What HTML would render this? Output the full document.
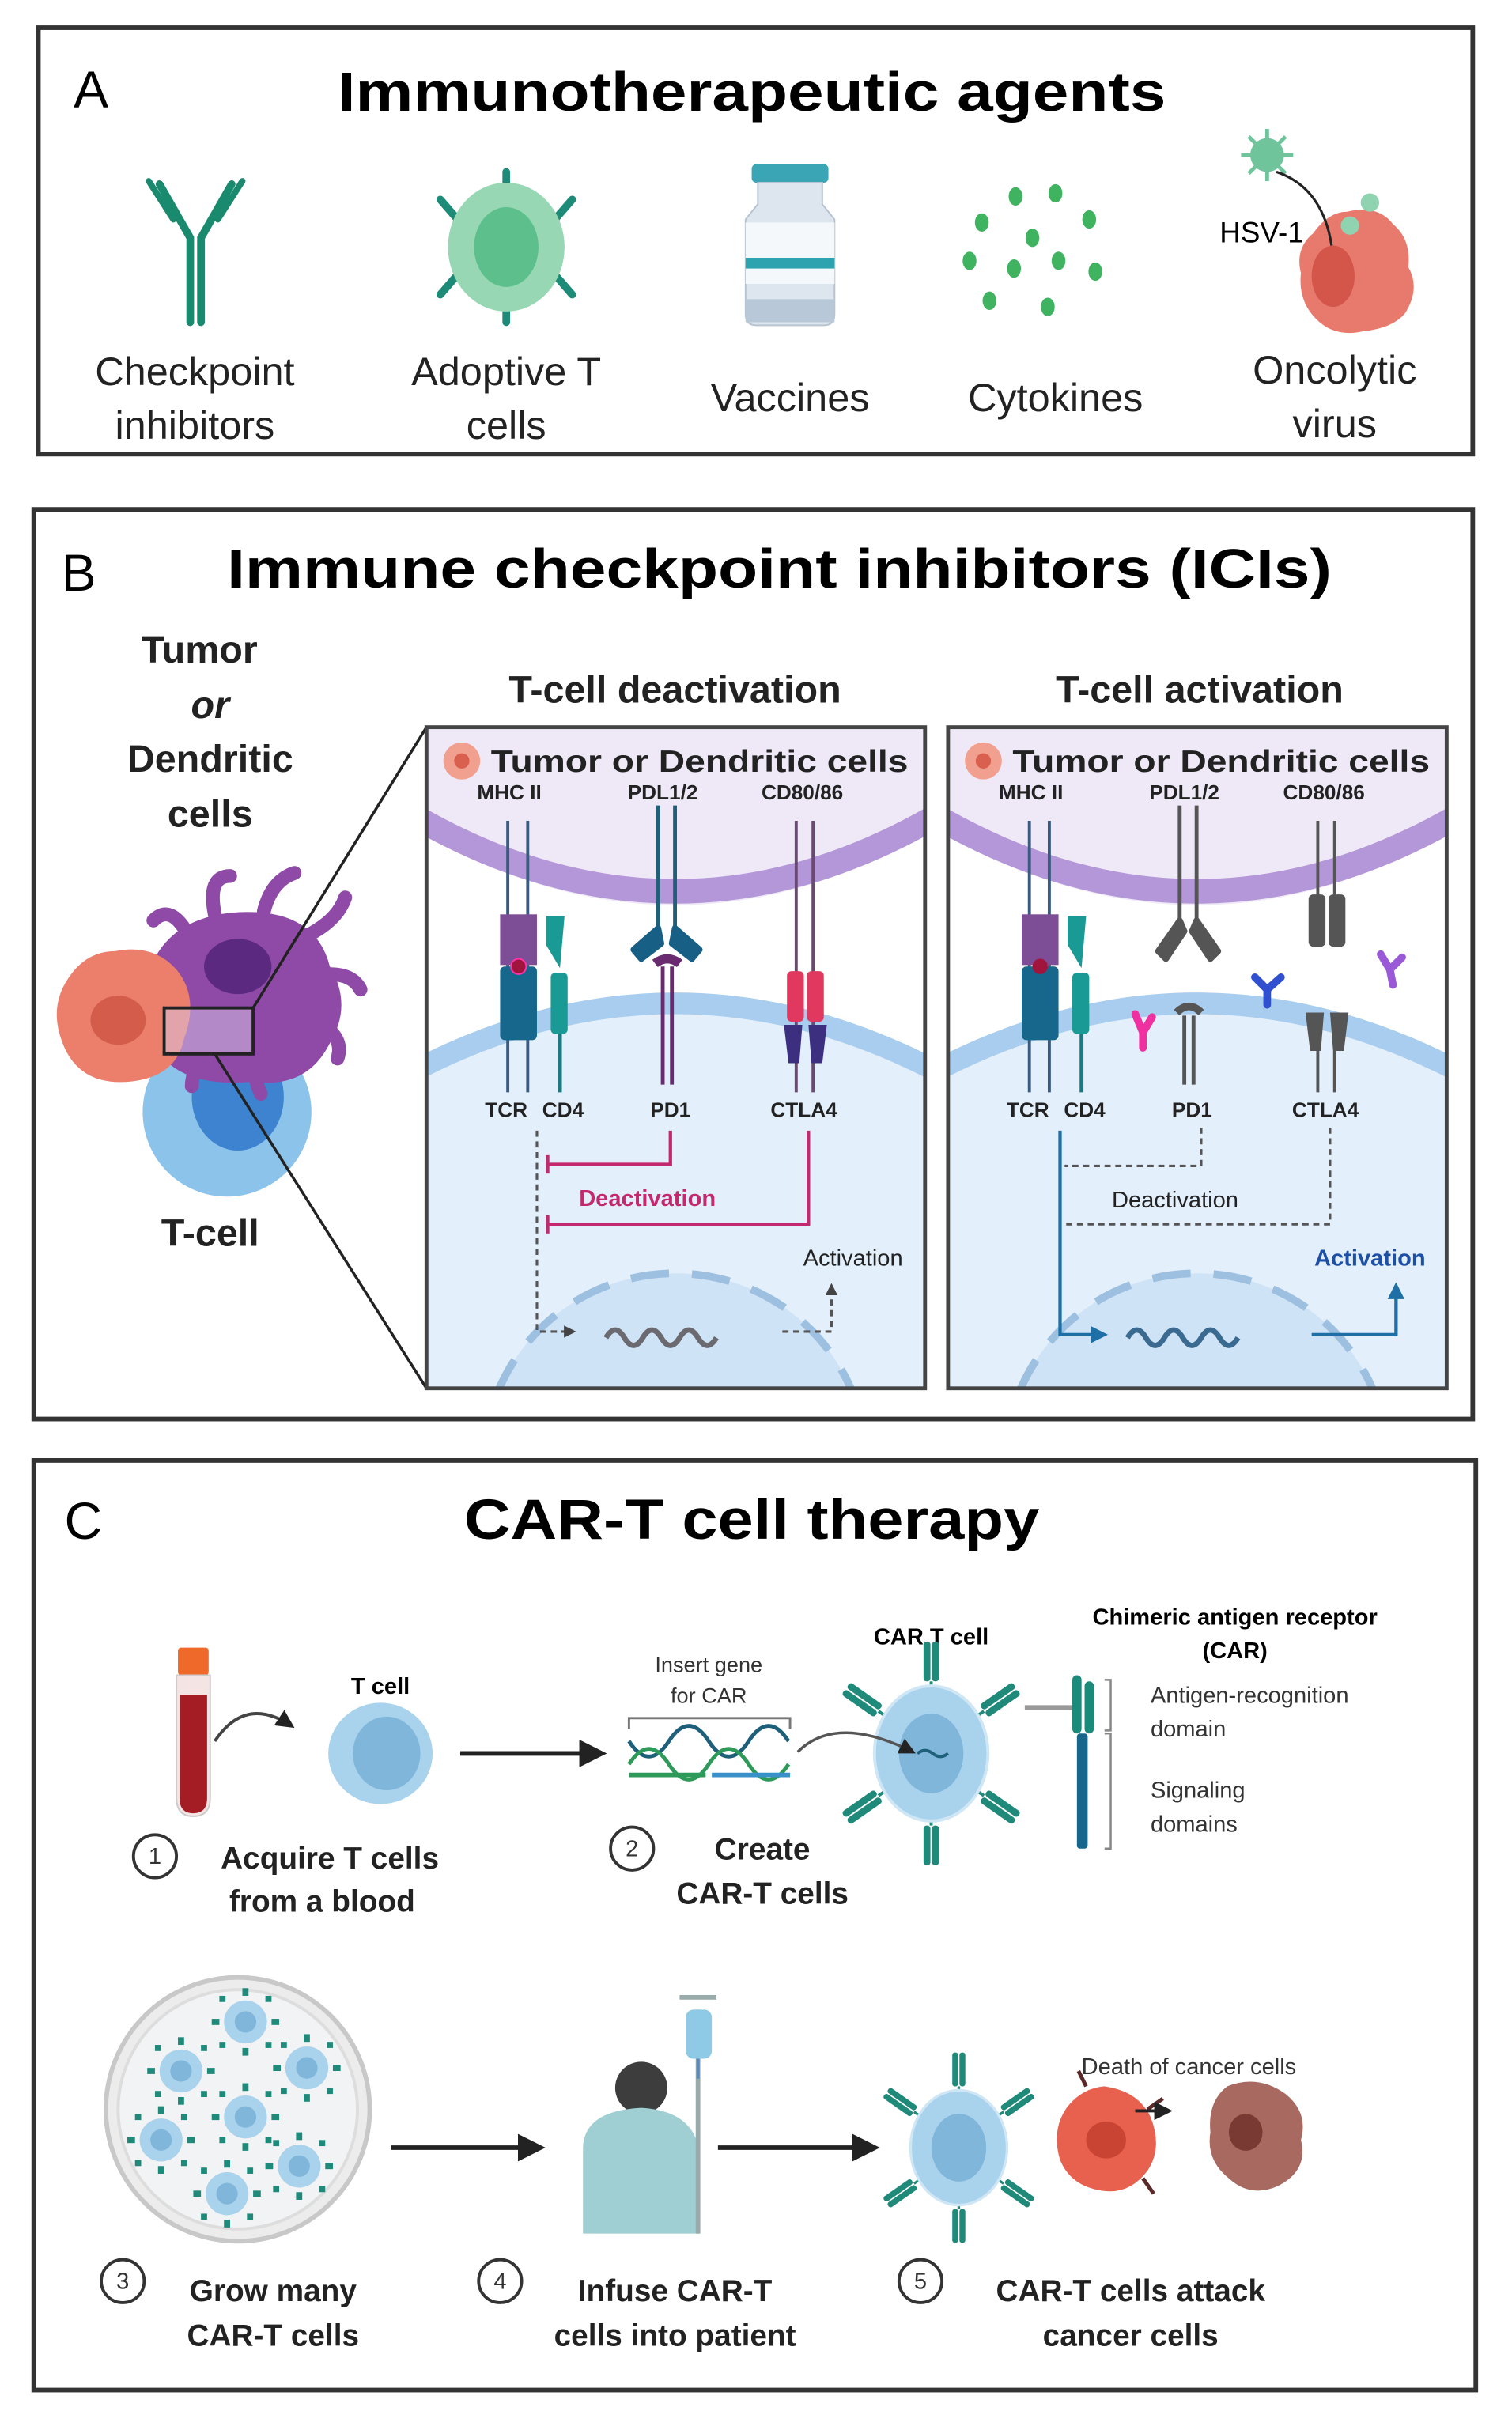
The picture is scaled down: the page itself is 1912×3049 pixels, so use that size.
<!DOCTYPE html>
<html><head><meta charset="utf-8"><style>
html,body{margin:0;padding:0;background:#fff}
svg{display:block}
text{font-family:"Liberation Sans",Arial,sans-serif}
</style></head><body>
<svg width="1912" height="3049" viewBox="0 0 985.6 1571.6" xmlns="http://www.w3.org/2000/svg">
<defs>
<g id="rec"><rect x="-5" y="-13" width="4.5" height="26" rx="2" fill="#1f8a7a"/><rect x="0.5" y="-13" width="4.5" height="26" rx="2" fill="#1f8a7a"/><line x1="0" y1="13" x2="0" y2="20" stroke="#1f8a7a" stroke-width="2"/></g>
<g id="cart">
<use href="#rec" transform="translate(0,-60)"/>
<use href="#rec" transform="translate(0,60) rotate(180)"/>
<use href="#rec" transform="translate(-45,-35) rotate(-55)"/>
<use href="#rec" transform="translate(45,-35) rotate(55)"/>
<use href="#rec" transform="translate(-45,35) rotate(-125)"/>
<use href="#rec" transform="translate(45,35) rotate(125)"/>
<ellipse cx="0" cy="0" rx="37" ry="44" fill="#a9d2ec" stroke="#cfe6f5" stroke-width="2"/>
<ellipse cx="0" cy="0" rx="21" ry="26" fill="#7fb6d9"/>
</g>
<g id="mini"><circle r="14" fill="#a9d2ec"/><circle r="7" fill="#7fb6d9"/>
<rect x="-2" y="-22" width="4" height="5" fill="#1f8a7a"/><rect x="-2" y="17" width="4" height="5" fill="#1f8a7a"/><rect x="-22" y="-2" width="5" height="4" fill="#1f8a7a"/><rect x="17" y="-2" width="5" height="4" fill="#1f8a7a"/>
<rect x="-17" y="-17" width="4" height="4" fill="#1f8a7a"/><rect x="13" y="13" width="4" height="4" fill="#1f8a7a"/><rect x="13" y="-17" width="4" height="4" fill="#1f8a7a"/><rect x="-17" y="13" width="4" height="4" fill="#1f8a7a"/></g>
<clipPath id="c1"><rect x="278" y="474" width="325" height="431"/></clipPath>
<clipPath id="c2"><rect x="618" y="474" width="325" height="431"/></clipPath>
<marker id="ah" viewBox="0 0 10 10" refX="8" refY="5" markerWidth="6" markerHeight="6" orient="auto"><path d="M0,0L10,5L0,10z" fill="#222"/></marker>
<marker id="ahb" viewBox="0 0 10 10" refX="8" refY="5" markerWidth="5" markerHeight="5" orient="auto"><path d="M0,0L10,5L0,10z" fill="#1d6fa5"/></marker>
<marker id="ahg" viewBox="0 0 10 10" refX="8" refY="5" markerWidth="5" markerHeight="5" orient="auto"><path d="M0,0L10,5L0,10z" fill="#444"/></marker>
</defs>

<!-- PANEL A -->
<rect x="25" y="18" width="935" height="278" fill="#fff" stroke="#333" stroke-width="3"/>
<text x="48" y="70" font-size="34">A</text>
<text x="490" y="72" font-size="36" font-weight="bold" text-anchor="middle" textLength="540" lengthAdjust="spacingAndGlyphs">Immunotherapeutic agents</text>
<!-- antibody -->
<g stroke="#1a8a6e" stroke-width="5" fill="none" stroke-linecap="round">
<path d="M124,210V155L104,120"/><path d="M131,210V155L151,120"/>
<path d="M113,143L97,118" stroke-width="4"/><path d="M142,143L158,118" stroke-width="4"/>
</g>
<!-- adoptive T -->
<g stroke="#1e8a78" stroke-width="5" stroke-linecap="round">
<line x1="330" y1="112" x2="330" y2="130"/><line x1="330" y1="192" x2="330" y2="210"/>
<line x1="287" y1="130" x2="300" y2="145"/><line x1="373" y1="130" x2="360" y2="145"/>
<line x1="287" y1="192" x2="300" y2="177"/><line x1="373" y1="192" x2="360" y2="177"/>
</g>
<ellipse cx="330" cy="161" rx="38" ry="42" fill="#97d7b4"/>
<ellipse cx="330" cy="161" rx="21" ry="26" fill="#5cbf8c"/>
<!-- vial -->
<rect x="490" y="107" width="50" height="12" rx="3" fill="#3aa5b5"/>
<path d="M494,119h42v14l8,10v62q0,7-7,7h-44q-7,0-7-7v-62l8-10z" fill="#dde5ee" stroke="#b6c3d0"/>
<rect x="486" y="145" width="58" height="40" fill="#f5f8fb"/>
<rect x="486" y="168" width="58" height="7" fill="#2ea3b0"/>
<rect x="486" y="195" width="58" height="15" fill="#b9c8d8"/>
<!-- cytokines -->
<g fill="#3fb360">
<ellipse cx="662" cy="128" rx="4.5" ry="6"/><ellipse cx="688" cy="126" rx="4.5" ry="6"/><ellipse cx="640" cy="145" rx="4.5" ry="6"/><ellipse cx="710" cy="143" rx="4.5" ry="6"/><ellipse cx="673" cy="155" rx="4.5" ry="6"/><ellipse cx="632" cy="170" rx="4.5" ry="6"/><ellipse cx="661" cy="175" rx="4.5" ry="6"/><ellipse cx="690" cy="170" rx="4.5" ry="6"/><ellipse cx="714" cy="177" rx="4.5" ry="6"/><ellipse cx="645" cy="196" rx="4.5" ry="6"/><ellipse cx="683" cy="200" rx="4.5" ry="6"/>
</g>
<!-- oncolytic -->
<path d="M878,138 q20,-5 30,8 q12,10 10,28 q8,14 -2,30 q-8,10 -28,12 q-18,4 -30,-8 q-12,-12 -10,-30 q-4,-16 8,-26 q10,-14 22,-14z" fill="#e87a6d"/>
<ellipse cx="869" cy="180" rx="14" ry="20" fill="#d4554a"/>
<circle cx="826" cy="101" r="11" fill="#6fc49c"/>
<g stroke="#6fc49c" stroke-width="2.5"><line x1="826" y1="84" x2="826" y2="118"/><line x1="809" y1="101" x2="843" y2="101"/><line x1="814" y1="89" x2="838" y2="113"/><line x1="838" y1="89" x2="814" y2="113"/></g>
<circle cx="893" cy="132" r="6" fill="#8fd3b0"/><circle cx="880" cy="147" r="6" fill="#8fd3b0"/>
<path d="M832,112 q30,10 36,48" stroke="#222" stroke-width="1.6" fill="none"/>
<text x="795" y="158" font-size="19">HSV-1</text>
<g font-size="26" text-anchor="middle" fill="#222">
<text x="127" y="251">Checkpoint</text><text x="127" y="286">inhibitors</text>
<text x="330" y="251">Adoptive T</text><text x="330" y="286">cells</text>
<text x="515" y="268">Vaccines</text><text x="688" y="268">Cytokines</text>
<text x="870" y="250">Oncolytic</text><text x="870" y="285">virus</text>
</g>

<!-- PANEL B -->
<rect x="22" y="332" width="938" height="593" fill="#fff" stroke="#333" stroke-width="3"/>
<text x="40" y="385" font-size="34">B</text>
<text x="508" y="383" font-size="36" font-weight="bold" text-anchor="middle" textLength="720" lengthAdjust="spacingAndGlyphs">Immune checkpoint inhibitors (ICIs)</text>
<g font-size="25" font-weight="bold" text-anchor="middle" fill="#222">
<text x="130" y="432">Tumor</text><text x="137" y="468" font-style="italic">or</text><text x="137" y="503">Dendritic</text><text x="137" y="539">cells</text>
<text x="137" y="812">T-cell</text>
<text x="440" y="458">T-cell deactivation</text><text x="782" y="458">T-cell activation</text>
</g>
<!-- left cells -->
<circle cx="148" cy="725" r="55" fill="#8cc3ea"/>
<ellipse cx="155" cy="715" rx="30" ry="35" fill="#3d83cf"/>
<g fill="#8e4aa6">
<path d="M95,640 q10,-40 55,-45 q55,-5 65,35 q15,25 0,50 q-15,30 -50,25 q-50,5 -65,-25 q-15,-20 -5,-40z"/>
<g stroke="#8e4aa6" stroke-width="9" stroke-linecap="round" fill="none">
<path d="M120,605 q-10,-15 -20,-5"/><path d="M140,596 q-5,-25 10,-25"/><path d="M172,594 q5,-20 20,-25"/><path d="M200,610 q20,-10 25,-25"/><path d="M215,635 q15,0 20,10"/><path d="M205,665 q20,10 15,25"/><path d="M165,683 q0,20 5,30"/><path d="M135,683 q-10,15 -10,25"/>
</g></g>
<ellipse cx="155" cy="630" rx="22" ry="18" fill="#5b2a80"/>
<path d="M75,620 q25,-5 40,12 q15,18 5,45 q-5,25 -35,28 q-30,3 -42,-20 q-12,-25 0,-45 q12,-20 32,-20z" fill="#ec7e6c"/>
<ellipse cx="77" cy="665" rx="18" ry="16" fill="#d45c4b"/>
<rect x="107" y="657" width="58" height="30" fill="#d8c8e8" fill-opacity="0.5" stroke="#222" stroke-width="2"/>
<line x1="165" y1="657" x2="278" y2="474" stroke="#222" stroke-width="1.8"/>
<line x1="140" y1="687" x2="278" y2="905" stroke="#222" stroke-width="1.8"/>

<!-- subpanel 1 and 2 backgrounds -->
<g id="sp1">
<g clip-path="url(#c1)">
<rect x="278" y="474" width="325" height="431" fill="#fff"/>
<path d="M270,474H610V540Q440,640 270,540z" fill="#efe8f6"/>
<path d="M270,532Q440,630 610,532" stroke="#b497d8" stroke-width="16" fill="none"/>
<path d="M270,700Q440,612 610,700V910H270z" fill="#e3effb"/>
<path d="M270,698Q440,610 610,698" stroke="#a9cdee" stroke-width="14" fill="none"/>
<circle cx="440" cy="955" r="125" fill="#cfe3f6"/>
<circle cx="440" cy="955" r="125" fill="none" stroke="#9dbfe0" stroke-width="5" stroke-dasharray="25,15"/>
</g>
<rect x="278" y="474" width="325" height="431" fill="none" stroke="#444" stroke-width="2.5"/>
<circle cx="301" cy="496" r="12" fill="#f1a08f"/><circle cx="301" cy="496" r="5" fill="#d9604f"/>
<text x="456" y="503" font-size="20" font-weight="bold" text-anchor="middle" fill="#222" textLength="272" lengthAdjust="spacingAndGlyphs">Tumor or Dendritic cells</text>
<g font-size="13.5" font-weight="bold" text-anchor="middle" fill="#222">
<text x="332" y="521">MHC II</text><text x="432" y="521">PDL1/2</text><text x="523" y="521">CD80/86</text>
<text x="330" y="728">TCR</text><text x="367" y="728">CD4</text><text x="437" y="728">PD1</text><text x="524" y="728">CTLA4</text>
</g>
</g>
<use href="#sp1" transform="translate(340,0)"/>

<!-- receptors panel 1 -->
<g>
<line x1="331" y1="535" x2="331" y2="712" stroke="#3a5a80" stroke-width="2"/><line x1="344" y1="535" x2="344" y2="712" stroke="#3a5a80" stroke-width="2"/>
<rect x="326" y="596" width="24" height="33" fill="#7d4d96"/>
<rect x="326" y="630" width="24" height="48" rx="3" fill="#17678c"/>
<circle cx="338" cy="630" r="5" fill="#a0153e" stroke="#f3a" stroke-width="1"/>
<path d="M356,597h12l-3,34l-9,-15z" fill="#1a9a95"/><rect x="359" y="634" width="11" height="40" rx="3" fill="#1a9a95"/><line x1="365" y1="674" x2="365" y2="712" stroke="#1a7a80" stroke-width="2.5"/>
<line x1="429" y1="525" x2="429" y2="605" stroke="#1e5f7a" stroke-width="2.5"/><line x1="440" y1="525" x2="440" y2="605" stroke="#1e5f7a" stroke-width="2.5"/>
<path d="M429,605l-16,14l5,6l13,-10z M440,605l16,14l-5,6l-13,-10z" fill="#175f85" stroke="#175f85" stroke-width="4" stroke-linejoin="round"/>
<path d="M427,628q8,-6 16,0" stroke="#6a2a70" stroke-width="6" fill="none"/>
<line x1="432" y1="630" x2="432" y2="707" stroke="#6a2a70" stroke-width="2.5"/><line x1="438" y1="630" x2="438" y2="707" stroke="#6a2a70" stroke-width="2.5"/>
<line x1="519" y1="535" x2="519" y2="712" stroke="#6a4a70" stroke-width="2"/><line x1="530" y1="535" x2="530" y2="712" stroke="#6a4a70" stroke-width="2"/>
<rect x="513" y="633" width="11" height="33" rx="3" fill="#e0385e"/><rect x="526" y="633" width="11" height="33" rx="3" fill="#e0385e"/>
<path d="M511,668h12l-2,25h-7z M527,668h12l-3,25h-7z" fill="#3d2f80"/>
</g>
<!-- deactivation arrows -->
<g stroke="#c4286e" stroke-width="2.2" fill="none">
<path d="M437,737V759H357"/><line x1="357" y1="753" x2="357" y2="765"/>
<path d="M527,737V798H357"/><line x1="357" y1="792" x2="357" y2="804"/>
</g>
<text x="422" y="786" font-size="15" font-weight="bold" fill="#c4286e" text-anchor="middle">Deactivation</text>
<path d="M350,737V868H374" stroke="#555" stroke-width="1.6" stroke-dasharray="4,3" fill="none" marker-end="url(#ahg)"/>
<path d="M510,868H542V838" stroke="#555" stroke-width="1.6" stroke-dasharray="4,3" fill="none" marker-end="url(#ahg)"/>
<text x="556" y="825" font-size="15" fill="#222" text-anchor="middle">Activation</text>
<path d="M395,872q6,-10 12,0t12,0t12,0t12,0t12,0t12,0" stroke="#6a6a70" stroke-width="3.5" fill="none"/>

<!-- receptors panel 2 -->
<g>
<line x1="671" y1="535" x2="671" y2="712" stroke="#3a5a80" stroke-width="2"/><line x1="684" y1="535" x2="684" y2="712" stroke="#3a5a80" stroke-width="2"/>
<rect x="666" y="596" width="24" height="33" fill="#7d4d96"/>
<rect x="666" y="630" width="24" height="48" rx="3" fill="#17678c"/>
<circle cx="678" cy="630" r="5" fill="#a0153e"/>
<path d="M696,597h12l-3,34l-9,-15z" fill="#1a9a95"/><rect x="699" y="634" width="11" height="40" rx="3" fill="#1a9a95"/><line x1="705" y1="674" x2="705" y2="712" stroke="#1a7a80" stroke-width="2.5"/>
<line x1="769" y1="525" x2="769" y2="600" stroke="#555" stroke-width="2.5"/><line x1="780" y1="525" x2="780" y2="600" stroke="#555" stroke-width="2.5"/>
<path d="M769,600l-14,20l5,5l12,-18z M780,600l14,20l-5,5l-12,-18z" fill="#555" stroke="#555" stroke-width="4" stroke-linejoin="round"/>
<path d="M767,660q8,-8 16,0" stroke="#555" stroke-width="5" fill="none"/>
<line x1="772" y1="662" x2="772" y2="707" stroke="#555" stroke-width="2.5"/><line x1="778" y1="662" x2="778" y2="707" stroke="#555" stroke-width="2.5"/>
<line x1="859" y1="535" x2="859" y2="600" stroke="#555" stroke-width="2"/><line x1="870" y1="535" x2="870" y2="600" stroke="#555" stroke-width="2"/>
<rect x="853" y="583" width="11" height="34" rx="3" fill="#555"/><rect x="866" y="583" width="11" height="34" rx="3" fill="#555"/>
<path d="M851,660h12l-2,25h-7z M867,660h12l-3,25h-7z" fill="#555"/>
<line x1="859" y1="685" x2="859" y2="712" stroke="#555" stroke-width="2"/><line x1="870" y1="685" x2="870" y2="712" stroke="#555" stroke-width="2"/>
<path d="M745,673l-5,-12M745,673l6,-10M745,673v10" stroke="#f02fa0" stroke-width="5" fill="none" stroke-linecap="round"/>
<path d="M826,645l-8,-8M826,645l9,-8M826,645v10" stroke="#3050d0" stroke-width="5" fill="none" stroke-linecap="round"/>
<path d="M906,632l-6,-10M906,632l8,-8M906,632l2,10" stroke="#9a5ad8" stroke-width="5" fill="none" stroke-linecap="round"/>
</g>
<g stroke="#555" stroke-width="1.6" stroke-dasharray="4,3" fill="none">
<path d="M783,735V760H694"/><path d="M867,735V798H694"/>
</g>
<text x="766" y="787" font-size="15" fill="#222" text-anchor="middle">Deactivation</text>
<path d="M691,737V870H720" stroke="#1d6fa5" stroke-width="2.2" fill="none" marker-end="url(#ahb)"/>
<path d="M855,870H910V838" stroke="#1d6fa5" stroke-width="2.2" fill="none" marker-end="url(#ahb)"/>
<text x="893" y="825" font-size="15" font-weight="bold" fill="#1d4fa5" text-anchor="middle">Activation</text>
<path d="M735,872q6,-10 12,0t12,0t12,0t12,0t12,0t12,0" stroke="#3a6a90" stroke-width="3.5" fill="none"/>

<!-- PANEL C -->
<rect x="22" y="952" width="940" height="606" fill="#fff" stroke="#333" stroke-width="3"/>
<text x="42" y="1003" font-size="34">C</text>
<text x="490" y="1003" font-size="37" font-weight="bold" text-anchor="middle" textLength="375" lengthAdjust="spacingAndGlyphs">CAR-T cell therapy</text>
<!-- tube -->
<rect x="116" y="1074" width="20" height="18" rx="2" fill="#ef6a2a"/>
<path d="M115,1092h22v80q0,12-11,12q-11,0-11,-12z" fill="#f5e4e4" stroke="#ccc"/>
<path d="M117,1105h18v67q0,10-9,10q-9,0-9,-10z" fill="#a51d24"/>
<path d="M140,1135q20,-30 50,-10" stroke="#444" stroke-width="2" fill="none" marker-end="url(#ah)"/>
<text x="248" y="1104" font-size="15" font-weight="bold" text-anchor="middle">T cell</text>
<ellipse cx="248" cy="1143" rx="34" ry="33" fill="#a9d2ec"/><ellipse cx="252" cy="1143" rx="22" ry="24" fill="#7fb6d9"/>
<line x1="300" y1="1143" x2="392" y2="1143" stroke="#222" stroke-width="3" marker-end="url(#ah)"/>
<text x="462" y="1090" font-size="14" text-anchor="middle" fill="#333">Insert gene</text>
<text x="462" y="1110" font-size="14" text-anchor="middle" fill="#333">for CAR</text>
<path d="M410,1127v-7h105v7" stroke="#777" stroke-width="1.5" fill="none"/>
<path d="M410,1135q13,20 26,0t26,0t26,0t26,0" stroke="#1e5f7a" stroke-width="2.5" fill="none"/>
<path d="M410,1150q13,-20 26,0t26,0t26,0t26,0" stroke="#2e9a5a" stroke-width="2.5" fill="none"/>
<line x1="410" y1="1157" x2="460" y2="1157" stroke="#2e9a5a" stroke-width="3"/><line x1="464" y1="1157" x2="515" y2="1157" stroke="#3a90c8" stroke-width="3"/>
<text x="607" y="1072" font-size="15" font-weight="bold" text-anchor="middle">CAR T cell</text>
<use href="#cart" transform="translate(607,1143)"/>
<path d="M520,1142q25,-25 75,0" stroke="#555" stroke-width="1.8" fill="none" marker-end="url(#ah)"/>
<path d="M598,1143q5,-4 10,0t10,0" stroke="#1e5f7a" stroke-width="2" fill="none"/>
<line x1="668" y1="1113" x2="700" y2="1113" stroke="#999" stroke-width="3"/>
<text x="805" y="1059" font-size="15" font-weight="bold" text-anchor="middle">Chimeric antigen receptor</text>
<text x="805" y="1081" font-size="15" font-weight="bold" text-anchor="middle">(CAR)</text>
<rect x="699" y="1092" width="6" height="38" rx="3" fill="#1a8a7a"/><rect x="707" y="1096" width="6" height="34" rx="3" fill="#1a8a7a"/>
<rect x="702" y="1130" width="7" height="75" rx="2" fill="#17678c"/>
<path d="M720,1095h4v33h-4 M720,1130h4v75h-4" stroke="#888" stroke-width="1.3" fill="none"/>
<g font-size="15" fill="#333"><text x="750" y="1110">Antigen-recognition</text><text x="750" y="1132">domain</text><text x="750" y="1172">Signaling</text><text x="750" y="1194">domains</text></g>
<!-- steps row1 -->
<g fill="none" stroke="#333" stroke-width="2"><circle cx="101" cy="1210" r="14"/><circle cx="412" cy="1205" r="14"/><circle cx="80" cy="1487" r="14"/><circle cx="326" cy="1487" r="14"/><circle cx="600" cy="1487" r="14"/></g>
<g font-size="15" text-anchor="middle" fill="#333"><text x="101" y="1215">1</text><text x="412" y="1210">2</text><text x="80" y="1492">3</text><text x="326" y="1492">4</text><text x="600" y="1492">5</text></g>
<g font-size="20" font-weight="bold" text-anchor="middle" fill="#222">
<text x="215" y="1218">Acquire T cells</text><text x="210" y="1246">from a blood</text>
<text x="497" y="1212">Create</text><text x="497" y="1241">CAR-T cells</text>
<text x="178" y="1500">Grow many</text><text x="178" y="1529">CAR-T cells</text>
<text x="440" y="1500">Infuse CAR-T</text><text x="440" y="1529">cells into patient</text>
<text x="737" y="1500">CAR-T cells attack</text><text x="737" y="1529">cancer cells</text>
</g>
<!-- petri -->
<circle cx="155" cy="1375" r="86" fill="#ececec" stroke="#c8c8c8" stroke-width="3"/>
<circle cx="155" cy="1375" r="78" fill="#f2f3f4" stroke="#ddd" stroke-width="2"/>
<use href="#mini" x="160" y="1318"/><use href="#mini" x="118" y="1350"/><use href="#mini" x="200" y="1348"/><use href="#mini" x="160" y="1380"/><use href="#mini" x="105" y="1395"/><use href="#mini" x="195" y="1412"/><use href="#mini" x="148" y="1430"/>
<line x1="255" y1="1400" x2="352" y2="1400" stroke="#222" stroke-width="3" marker-end="url(#ah)"/>
<!-- patient -->
<circle cx="418" cy="1361" r="17" fill="#3d3d3d"/>
<path d="M380,1456v-55q0,-25 38,-27q35,2 38,30v52z" fill="#9fcfd2"/>
<line x1="455" y1="1310" x2="455" y2="1456" stroke="#9aa" stroke-width="3"/>
<line x1="443" y1="1302" x2="467" y2="1302" stroke="#9aa" stroke-width="3"/>
<rect x="447" y="1310" width="17" height="32" rx="5" fill="#8ec9e6"/>
<line x1="455" y1="1342" x2="455" y2="1355" stroke="#5a8aba" stroke-width="2"/>
<line x1="468" y1="1400" x2="570" y2="1400" stroke="#222" stroke-width="3" marker-end="url(#ah)"/>
<!-- attack -->
<use href="#cart" transform="translate(625,1400) scale(0.85)"/>
<path d="M720,1360q22,3 30,20q8,20 -2,35q-12,16 -30,13q-20,-3 -27,-20q-6,-20 5,-35q10,-12 24,-13z" fill="#e8604e"/>
<ellipse cx="721" cy="1395" rx="13" ry="12" fill="#c94432"/>
<g stroke="#5a2a2a" stroke-width="2.5"><line x1="708" y1="1360" x2="703" y2="1350"/><line x1="748" y1="1375" x2="758" y2="1368"/><line x1="745" y1="1420" x2="752" y2="1430"/></g>
<path d="M800,1360q20,-8 38,5q15,12 10,30q5,20 -15,30q-18,8 -32,-5q-15,-12 -12,-30q-2,-20 11,-30z" fill="#a86a60"/>
<ellipse cx="812" cy="1390" rx="11" ry="12" fill="#7a3a34"/>
<text x="775" y="1352" font-size="15" text-anchor="middle" fill="#333">Death of cancer cells</text>
<line x1="740" y1="1376" x2="762" y2="1376" stroke="#222" stroke-width="2" marker-end="url(#ah)"/>
</svg>
</body></html>
